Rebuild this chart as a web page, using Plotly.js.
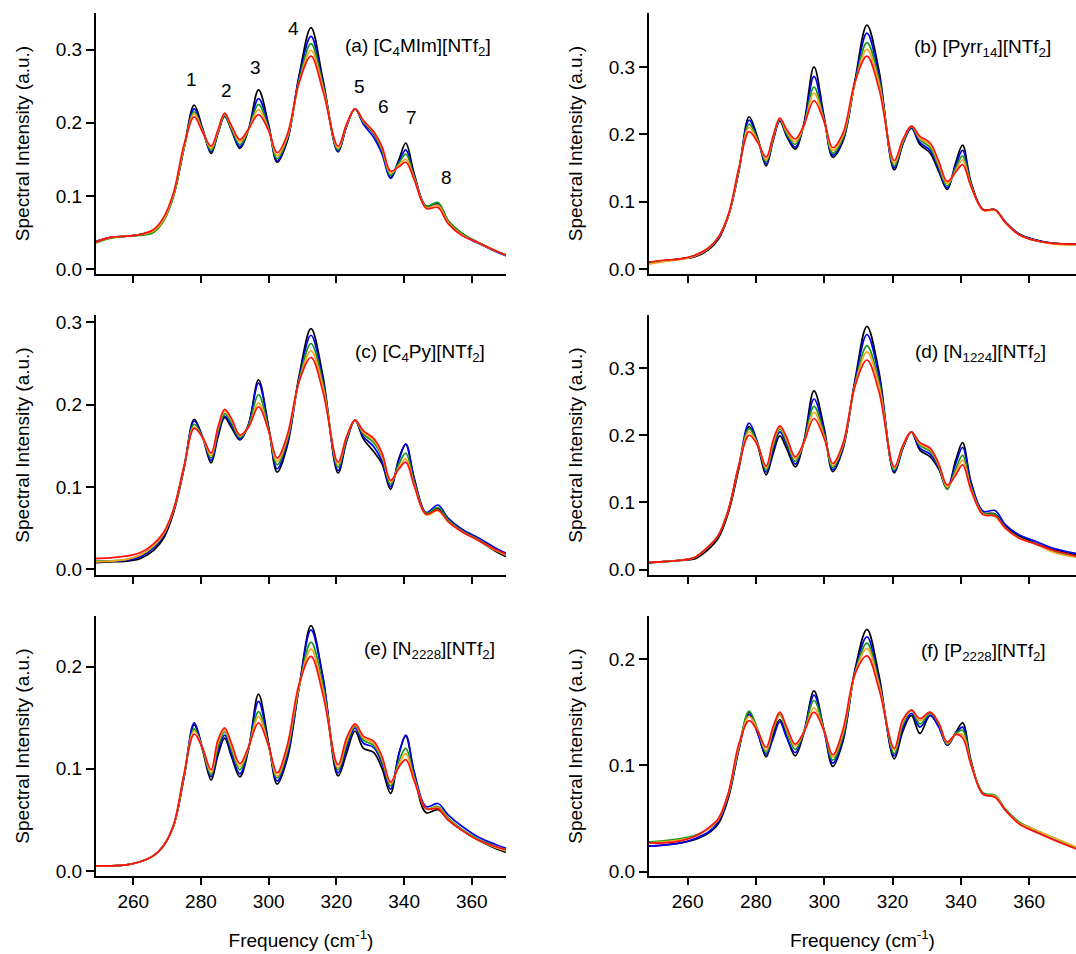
<!DOCTYPE html>
<html>
<head>
<meta charset="utf-8">
<script src="https://cdn.plot.ly/plotly-3.0.1.min.js"></script>
<style>html,body{margin:0;padding:0;background:#fff;}</style>
</head>
<body>
<div id="chart" style="width:1076px;height:954px;"></div>
<script>
// Frequency grid (cm^-1)
const X = [248.5,253,258,262,266,269,272,275,278,280.5,283,285,287,289,291.5,294,297,300,302.5,305.5,309,312.5,316,320.5,323,325.5,328,331,333.5,336,338.5,340.5,343,346.5,350,353,357,362,367,374];

// (a) [C4MIm][NTf2]
const a_black  = [.037,.043,.045,.047,.053,.068,.103,.166,.224,.192,.158,.185,.209,.190,.165,.190,.245,.197,.146,.175,.265,.330,.260,.160,.195,.219,.200,.185,.160,.125,.150,.172,.130,.086,.090,.066,.049,.036,.025,.013];
const a_blue   = [.037,.043,.045,.047,.052,.067,.102,.165,.219,.190,.160,.186,.209,.191,.167,.190,.233,.195,.148,.177,.262,.318,.255,.161,.195,.219,.198,.180,.157,.124,.147,.163,.127,.086,.088,.064,.047,.035,.024,.011];
const a_green  = [.035,.042,.045,.046,.050,.066,.101,.165,.215,.189,.162,.187,.210,.192,.170,.190,.225,.192,.151,.179,.258,.308,.252,.163,.196,.219,.201,.186,.162,.128,.145,.157,.126,.086,.091,.066,.049,.036,.025,.012];
const a_yellow = [.036,.043,.045,.047,.052,.068,.104,.167,.212,.188,.165,.188,.212,.194,.174,.190,.218,.190,.155,.181,.255,.299,.249,.165,.197,.219,.202,.187,.165,.131,.142,.150,.124,.084,.087,.064,.047,.036,.025,.012];
const a_red    = [.036,.043,.045,.047,.054,.071,.106,.170,.208,.187,.168,.190,.213,.196,.177,.191,.211,.189,.159,.184,.255,.291,.244,.168,.198,.219,.203,.188,.167,.134,.140,.146,.122,.083,.084,.062,.046,.036,.025,.012];

// (b) [Pyrr14][NTf2]
const b_black  = [.010,.012,.015,.018,.028,.044,.080,.145,.226,.195,.153,.190,.220,.197,.178,.215,.300,.225,.166,.190,.280,.362,.295,.147,.185,.209,.185,.172,.145,.118,.158,.184,.128,.088,.088,.070,.052,.043,.038,.037];
const b_blue   = [.009,.012,.015,.019,.030,.046,.080,.146,.221,.193,.156,.191,.221,.199,.181,.213,.286,.222,.169,.192,.278,.350,.288,.150,.186,.210,.188,.176,.148,.120,.154,.176,.126,.088,.088,.070,.052,.043,.038,.037];
const b_green  = [.008,.012,.015,.020,.031,.047,.080,.147,.215,.192,.159,.193,.222,.201,.185,.212,.270,.220,.172,.195,.276,.336,.282,.153,.188,.211,.192,.180,.152,.123,.150,.168,.125,.088,.088,.069,.051,.042,.038,.036];
const b_yellow = [.007,.011,.014,.019,.030,.047,.081,.148,.210,.190,.162,.195,.223,.204,.189,.212,.261,.219,.176,.198,.276,.326,.276,.157,.190,.212,.194,.184,.156,.127,.146,.162,.123,.087,.087,.069,.051,.042,.037,.036];
const b_red    = [.010,.013,.015,.020,.031,.047,.082,.150,.204,.188,.166,.197,.224,.207,.193,.213,.250,.218,.180,.202,.278,.316,.268,.161,.192,.212,.197,.187,.160,.130,.144,.155,.122,.088,.088,.069,.051,.042,.038,.037];

// (c) [C4Py][NTf2]
const c_black  = [.008,.009,.010,.013,.023,.038,.070,.122,.182,.160,.129,.160,.184,.172,.157,.175,.230,.172,.118,.150,.235,.292,.235,.117,.155,.181,.158,.143,.128,.097,.135,.152,.110,.068,.074,.060,.047,.035,.022,.008];
const c_blue   = [.009,.010,.011,.015,.026,.041,.073,.124,.180,.160,.132,.163,.186,.175,.158,.175,.226,.172,.122,.153,.232,.284,.230,.120,.156,.181,.161,.149,.131,.100,.133,.152,.110,.069,.078,.062,.049,.038,.026,.012];
const c_green  = [.010,.010,.012,.017,.028,.043,.073,.124,.176,.160,.135,.167,.189,.178,.160,.174,.212,.170,.127,.157,.230,.274,.226,.124,.158,.181,.164,.154,.136,.103,.128,.141,.106,.068,.075,.060,.047,.036,.024,.010];
const c_yellow = [.009,.010,.012,.017,.028,.043,.073,.124,.173,.159,.138,.170,.192,.181,.162,.172,.202,.168,.131,.160,.228,.265,.222,.127,.160,.181,.166,.157,.138,.106,.124,.134,.103,.066,.071,.058,.046,.035,.023,.011];
const c_red    = [.013,.014,.016,.020,.031,.045,.074,.125,.171,.160,.141,.172,.194,.183,.163,.172,.197,.168,.135,.163,.228,.257,.216,.130,.161,.181,.168,.159,.141,.108,.122,.130,.101,.067,.072,.058,.046,.035,.024,.012];

// (d) [N1224][NTf2]
const d_black  = [.010,.012,.014,.016,.030,.047,.086,.150,.213,.185,.141,.172,.199,.180,.153,.190,.266,.210,.146,.180,.282,.362,.295,.144,.180,.205,.178,.168,.150,.120,.163,.189,.130,.085,.083,.065,.050,.039,.030,.022];
const d_blue   = [.011,.012,.014,.018,.034,.051,.090,.155,.218,.189,.145,.178,.205,.186,.157,.189,.254,.205,.149,.182,.279,.350,.289,.146,.181,.205,.181,.172,.152,.121,.158,.182,.128,.087,.088,.067,.052,.042,.032,.024];
const d_green  = [.011,.012,.014,.018,.034,.051,.090,.155,.210,.187,.148,.183,.209,.190,.161,.189,.243,.201,.152,.184,.276,.333,.280,.148,.182,.205,.185,.176,.154,.120,.150,.170,.123,.084,.082,.063,.048,.038,.028,.020];
const d_yellow = [.011,.012,.014,.018,.034,.051,.090,.155,.205,.186,.151,.188,.212,.194,.165,.188,.234,.198,.155,.186,.274,.324,.274,.151,.184,.205,.187,.179,.156,.123,.145,.163,.120,.083,.080,.062,.047,.038,.026,.018];
const d_red    = [.011,.012,.014,.018,.034,.051,.090,.155,.200,.185,.154,.192,.214,.197,.168,.189,.225,.195,.158,.188,.273,.312,.265,.153,.185,.205,.189,.181,.158,.126,.141,.156,.118,.082,.080,.062,.047,.038,.029,.020];

// (e) [N2228][NTf2]
const e_black  = [.005,.005,.006,.009,.015,.025,.045,.092,.143,.118,.089,.113,.130,.112,.092,.118,.173,.125,.085,.110,.180,.240,.190,.093,.115,.137,.120,.116,.100,.076,.115,.132,.095,.057,.060,.050,.040,.030,.022,.014];
const e_blue   = [.005,.005,.006,.009,.015,.025,.045,.092,.145,.120,.092,.117,.133,.115,.095,.119,.166,.124,.088,.113,.180,.236,.190,.096,.120,.140,.125,.121,.105,.080,.115,.133,.097,.063,.066,.055,.044,.033,.026,.018];
const e_green  = [.005,.005,.006,.009,.015,.025,.045,.093,.139,.119,.094,.121,.136,.119,.099,.120,.156,.123,.091,.117,.180,.224,.182,.099,.124,.142,.128,.123,.108,.083,.108,.120,.092,.061,.063,.052,.041,.031,.024,.016];
const e_yellow = [.005,.005,.006,.009,.015,.025,.045,.094,.137,.120,.096,.125,.138,.122,.102,.120,.151,.122,.093,.120,.181,.217,.178,.101,.127,.143,.130,.125,.110,.085,.104,.115,.090,.061,.062,.051,.040,.030,.023,.016];
const e_red    = [.005,.005,.006,.009,.015,.025,.046,.095,.134,.120,.099,.128,.140,.125,.105,.121,.145,.122,.096,.123,.183,.210,.173,.104,.130,.144,.132,.127,.112,.087,.102,.109,.088,.061,.061,.050,.040,.030,.024,.017];

// (f) [P2228][NTf2]
const f_black  = [.024,.025,.027,.030,.036,.045,.070,.115,.150,.131,.108,.128,.143,.127,.109,.130,.170,.132,.099,.123,.190,.228,.185,.106,.132,.147,.130,.147,.137,.119,.131,.140,.104,.073,.071,.058,.046,.038,.031,.022];
const f_blue   = [.024,.025,.027,.031,.037,.047,.072,.115,.148,.130,.110,.125,.141,.126,.112,.131,.166,.132,.102,.125,.188,.221,.180,.109,.135,.149,.136,.147,.136,.119,.130,.136,.102,.073,.071,.058,.046,.038,.031,.022];
const f_green  = [.028,.029,.031,.034,.040,.049,.073,.117,.151,.134,.112,.132,.148,.132,.115,.131,.161,.133,.105,.128,.187,.215,.178,.111,.139,.152,.139,.149,.139,.120,.130,.133,.102,.074,.072,.059,.047,.039,.032,.022];
const f_yellow = [.027,.028,.030,.033,.040,.049,.074,.118,.146,.133,.114,.134,.149,.134,.118,.131,.154,.132,.108,.131,.186,.210,.176,.114,.141,.152,.142,.150,.140,.121,.129,.129,.101,.073,.071,.058,.046,.039,.032,.023];
const f_red    = [.027,.027,.029,.033,.041,.050,.075,.120,.142,.132,.117,.136,.150,.136,.120,.131,.150,.132,.110,.134,.186,.203,.172,.116,.143,.152,.144,.150,.140,.122,.129,.126,.100,.073,.070,.058,.045,.037,.030,.021];

const panelLabels = [
  "(a) [C<sub>4</sub>MIm][NTf<sub>2</sub>]",
  "(b) [Pyrr<sub>14</sub>][NTf<sub>2</sub>]",
  "(c) [C<sub>4</sub>Py][NTf<sub>2</sub>]",
  "(d) [N<sub>1224</sub>][NTf<sub>2</sub>]",
  "(e) [N<sub>2228</sub>][NTf<sub>2</sub>]",
  "(f) [P<sub>2228</sub>][NTf<sub>2</sub>]"
];
const peakNames = ["1","2","3","4","5","6","7","8"];
const peakX = [277.3,287.4,296.0,307.2,326.7,333.8,342.1,352.4];
const peakY = [0.259,0.244,0.275,0.329,0.249,0.222,0.207,0.125];
const xTicks = [260,280,300,320,340,360];

const panels = [
  [a_black,a_blue,a_green,a_yellow,a_red],
  [b_black,b_blue,b_green,b_yellow,b_red],
  [c_black,c_blue,c_green,c_yellow,c_red],
  [d_black,d_blue,d_green,d_yellow,d_red],
  [e_black,e_blue,e_green,e_yellow,e_red],
  [f_black,f_blue,f_green,f_yellow,f_red]
];
const colors = ['#000000','#0000f0','#159a15','#f5a623','#ff1010'];

const FONT = 'Liberation Sans, Arial, Helvetica, sans-serif';
const FS = 19;

// layout geometry
const W = 1076, H = 954;
const colX = [[96/W, 506/W],[649/W, 1.0]];
const rowY = [[(H-274)/H,(H-13)/H],[(H-575)/H,(H-315)/H],[(H-876)/H,(H-616)/H]];
const xRanges = [[249,370.1],[248.7,373.7]];
const yRanges = [[-0.0068,0.350],[-0.0074,0.380],[-0.0069,0.3086],[-0.0079,0.379],[-0.0049,0.2495],[-0.0041,0.2405]];

const traces = [];
const layout = {
  width: W, height: H,
  margin: {l:0,r:0,t:0,b:0},
  paper_bgcolor:'#ffffff', plot_bgcolor:'#ffffff',
  font:{family:FONT,size:FS,color:'#000'},
  showlegend:false,
  annotations:[]
};

panels.forEach((series,i)=>{
  const n = i+1;
  const col = i%2, row = Math.floor(i/2);
  series.forEach((ys,s)=>{
    traces.push({
      x:X, y:ys, xaxis:'x'+n, yaxis:'y'+n, type:'scatter', mode:'lines',
      line:{color:colors[s],width:1.7,shape:'spline',smoothing:1},
      hoverinfo:'skip', showlegend:false
    });
  });
  const xa = {
    domain:colX[col], range:xRanges[col], anchor:'y'+n,
    tickmode:'array', tickvals:xTicks, ticktext:xTicks.map(String),
    showticklabels: row===2,
    ticks:'outside', ticklen:7, tickwidth:2, tickcolor:'#000',
    showline:true, linewidth:2, linecolor:'#000',
    showgrid:false, zeroline:false,
    tickfont:{family:FONT,size:FS,color:'#000'}
  };
  if(row===2){
    xa.title = {text:'Frequency (cm<sup>-1</sup>)', font:{family:FONT,size:FS,color:'#000'}, standoff:23};
  }
  const ya = {
    domain:rowY[row], range:yRanges[i], anchor:'x'+n,
    tick0:0, dtick:0.1, tickformat:'.1f',
    ticks:'outside', ticklen:8, tickwidth:2, tickcolor:'#000',
    showline:true, linewidth:2, linecolor:'#000',
    showgrid:false, zeroline:false,
    tickfont:{family:FONT,size:FS,color:'#000'},
    title:{text:'Spectral Intensity (a.u.)', font:{family:FONT,size:FS,color:'#000'}, standoff:21}
  };
  layout['xaxis'+(n===1?'':n)] = xa;
  layout['yaxis'+(n===1?'':n)] = ya;
});

// panel labels
const labelPos = [[493,47],[1053,48],[487,353],[1048,353],[497,650],[1048,652]];
panelLabels.forEach((t,i)=>{
  layout.annotations.push({
    text:t, xref:'paper', yref:'paper',
    x:labelPos[i][0]/W, y:(H-labelPos[i][1])/H,
    xanchor:'right', yanchor:'middle', showarrow:false,
    font:{family:FONT,size:FS,color:'#000'}
  });
});
// peak numbers in panel (a)
peakNames.forEach((t,k)=>{
  layout.annotations.push({
    text:t, xref:'x', yref:'y', x:peakX[k], y:peakY[k],
    xanchor:'center', yanchor:'middle', showarrow:false,
    font:{family:FONT,size:FS,color:'#000'}
  });
});

Plotly.newPlot('chart', traces, layout, {displayModeBar:false, staticPlot:true});
</script>
</body>
</html>
